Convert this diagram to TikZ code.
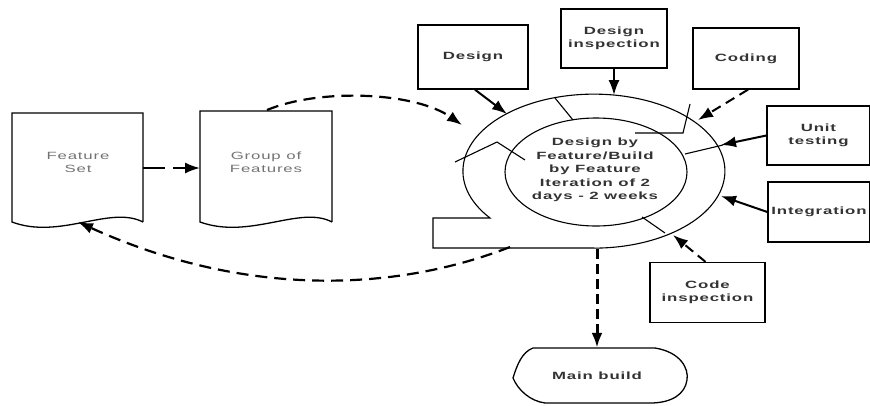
\documentclass[tikz,border=0pt]{standalone}
\usepackage{fontspec}
\setmainfont{Liberation Sans}
\newfontfamily\boxfont[FakeStretch=1.6,LetterSpace=8]{Liberation Sans}
\usetikzlibrary{arrows.meta}

\begin{document}
\begin{tikzpicture}[x=1pt, y=-1pt, >={Latex[length=15pt,width=11pt]},
  box/.style={draw, line width=1.3pt, align=center, inner sep=0pt,
    font=\boxfont\bfseries\fontsize{10.5}{13.5}\selectfont, text=black!80},
  doc/.style={align=center, font=\boxfont\fontsize{10.5}{13}\selectfont, text=black!55},
  feed/.style={->, line width=2pt},
  feeddash/.style={->, line width=2pt, dash pattern=on 10pt off 6pt},
  flow/.style={->, line width=2.2pt, dash pattern=on 12pt off 7pt},
  ring/.style={line width=1.1pt}]

\useasboundingbox (0,0) rectangle (870,405);

% the two feature documents
\draw[line width=1.3pt] (143,222) -- (143,113) -- (12,113) -- (12,222)
  .. controls (60,240) and (110,205) .. (143,222);
\draw[line width=1.3pt] (332,222) -- (332,111) -- (200,111) -- (200,222)
  .. controls (250,240) and (300,205) .. (332,222);
\node[doc] (fs) at (78,162) {Feature\\Set};
\node[doc] (gf) at (266,162) {Group of\\Features};
\coordinate (fs-e) at (143,168);
\coordinate (gf-w) at (200,168);
\coordinate (fs-s) at (78,222);
\coordinate (gf-n) at (267,110);

% the iteration ring
\draw[ring] (594,248) -- (433,248) -- (433,218) -- (490,218)
  arc[start angle=142.5, end angle=450, x radius=131, y radius=77];
\draw[ring] (596,172) ellipse[x radius=91, y radius=54];
\draw[ring] (555,98) -- (573,120);
\draw[ring] (455,162) -- (497,142) -- (525,160);
\draw[ring] (690,104) -- (683,133) -- (635,133);
\draw[ring] (685,154) -- (723,145);
\draw[ring] (642,217) -- (665,233);
\node[align=center, font=\boxfont\bfseries\fontsize{10.5}{13.5}\selectfont, text=black!80]
  (core) at (595,170) {Design by\\Feature/Build\\by Feature\\Iteration of 2\\days - 2 weeks};

% points where the arrows meet the ring
\coordinate (r-in) at (462,125);
\coordinate (r-design) at (507,114);
\coordinate (r-dinsp) at (614,95);
\coordinate (r-coding) at (698,120);
\coordinate (r-unit) at (721,145);
\coordinate (r-integ) at (721,196);
\coordinate (r-cinsp) at (673,235);
\coordinate (r-out) at (510,247);
\coordinate (r-bottom) at (597,249);

% activity boxes
\node[box, minimum width=110pt, minimum height=64pt] (design) at (473,57) {Design};
\node[box, minimum width=106pt, minimum height=59pt] (dinsp) at (614,38.5) {Design\\inspection};
\node[box, minimum width=106pt, minimum height=61pt] (coding) at (746,58.5) {Coding};
\node[box, minimum width=103pt, minimum height=59pt] (unit) at (818.5,135.5) {Unit\\testing};
\node[box, minimum width=102pt, minimum height=60pt] (integ) at (819,212) {Integration};
\node[box, minimum width=115pt, minimum height=60pt] (cinsp) at (707.5,292.5) {Code\\inspection};

% main build
\draw[line width=1.3pt] (533,348) -- (655,348)
  .. controls (680,352) and (689,368) .. (687,380)
  .. controls (685,394) and (672,403) .. (650,403) -- (545,403)
  .. controls (530,401) and (518,390) .. (513,378)
  .. controls (517,365) and (522,352) .. (533,348);
\node[font=\boxfont\bfseries\fontsize{10.5}{13}\selectfont, text=black!80,
  minimum height=56pt] (main) at (597,376) {Main build};

% arrows into the ring
\draw[feed] (design.south) ++(2,0) -- (r-design);
\draw[feed] (dinsp.south) -- (r-dinsp);
\draw[feeddash] (coding.south) ++(2,0) -- (r-coding);
\draw[feed] (unit.west) -- (r-unit);
\draw[feed] (integ.west) -- (r-integ);
\draw[feeddash] (cinsp.north) ++(-2,0) -- (r-cinsp);

% flow between documents, ring and build
\draw[->, line width=2pt, dash pattern=on 22pt off 8pt] (fs-e) -- (gf-w);
\draw[flow] (gf-n) .. controls (320,88) and (415,92) .. (r-in);
\draw[flow] (r-out) .. controls (400,290) and (250,300) .. (fs-s);
\draw[->, line width=3pt, dash pattern=on 10pt off 5pt] (r-bottom) -- (main.north);
\end{tikzpicture}
\end{document}
